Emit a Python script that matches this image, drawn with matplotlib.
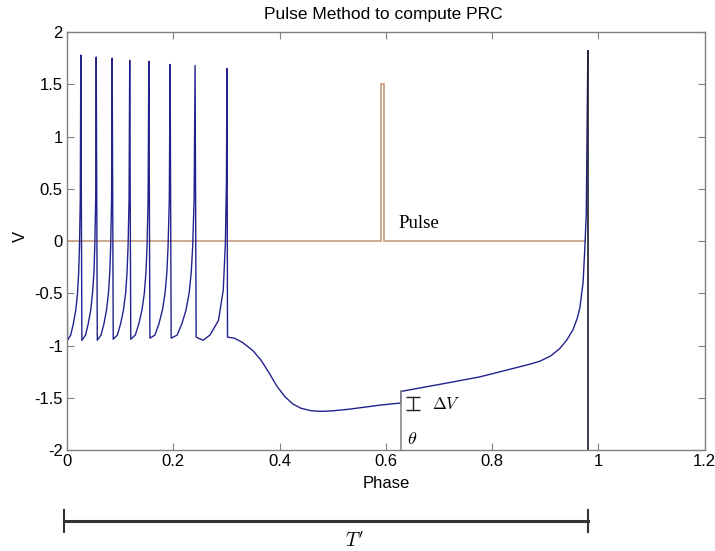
import matplotlib
matplotlib.use("Agg")
import matplotlib.pyplot as plt
from matplotlib.lines import Line2D

plt.rcParams["font.family"] = ["Liberation Sans", "DejaVu Sans"]
plt.rcParams["mathtext.fontset"] = "cm"

# membrane trace (phase, V)
trace_phase = [
    0.0, 0.001,
    0.007, 0.012, 0.0165, 0.0198, 0.022, 0.0235, 0.025, 0.026, 0.028,
    0.035, 0.040, 0.0447, 0.048, 0.0507, 0.0523, 0.054, 0.055, 0.057,
    0.064, 0.0696, 0.0744, 0.078, 0.0805, 0.0822, 0.0839, 0.085, 0.087,
    0.0948, 0.101, 0.1062, 0.1103, 0.113, 0.1149, 0.1168, 0.118, 0.120,
    0.1285, 0.1353, 0.1411, 0.1455, 0.1486, 0.1506, 0.1526, 0.154, 0.156,
    0.1655, 0.1731, 0.1796, 0.1845, 0.1879, 0.1902, 0.1925, 0.194, 0.196,
    0.2073, 0.2163, 0.2239, 0.2298, 0.2338, 0.2365, 0.2392, 0.241, 0.243,
    0.256, 0.269, 0.285, 0.294, 0.298, 0.300, 0.301, 0.302,
    0.315, 0.330, 0.350, 0.365, 0.380, 0.395, 0.410, 0.425, 0.440, 0.460,
    0.480, 0.500, 0.530, 0.560, 0.590, 0.628, 0.628,
    0.660, 0.714, 0.777, 0.839, 0.870, 0.890, 0.910, 0.927, 0.940, 0.952,
    0.960, 0.965, 0.971, 0.974, 0.977, 0.980,
]
trace_v = [
    -0.23, -0.95,
    -0.90, -0.79, -0.66, -0.50, -0.30, -0.05, 0.40, 1.78, -0.95,
    -0.90, -0.79, -0.66, -0.50, -0.30, -0.05, 0.40, 1.76, -0.95,
    -0.90, -0.79, -0.66, -0.50, -0.30, -0.05, 0.40, 1.75, -0.94,
    -0.90, -0.79, -0.66, -0.50, -0.30, -0.05, 0.40, 1.73, -0.94,
    -0.90, -0.79, -0.66, -0.50, -0.30, -0.05, 0.40, 1.72, -0.93,
    -0.90, -0.79, -0.66, -0.50, -0.30, -0.05, 0.40, 1.69, -0.93,
    -0.90, -0.79, -0.66, -0.50, -0.30, -0.05, 0.40, 1.68, -0.92,
    -0.95, -0.90, -0.76, -0.47, -0.02, 0.58, 1.65, -0.92,
    -0.93, -0.97, -1.05, -1.14, -1.26, -1.39, -1.49, -1.56, -1.60, -1.625,
    -1.63, -1.625, -1.61, -1.59, -1.57, -1.55, -1.44,
    -1.41, -1.36, -1.30, -1.22, -1.18, -1.15, -1.10, -1.03, -0.95, -0.85,
    -0.74, -0.64, -0.40, -0.10, 0.25, 1.82,
]

# injected pulse
pulse_phase = [0.0, 0.590, 0.590, 0.597, 0.597, 0.975]
pulse_v = [0.0, 0.0, 1.5, 1.5, 0.0, 0.0]

# markers
theta_phase = 0.628
theta_top = -1.44
spike_phase = 0.980
spike_top = 1.82
dv_phase = 0.651
dv_range = [-1.62, -1.49]

fig = plt.figure(figsize=(7.15, 5.51), dpi=100)
ax = fig.add_axes([0.0937, 0.1833, 0.892, 0.7586])

ax.plot(pulse_phase, pulse_v, color="#c9a286", lw=1.3)
ax.plot(trace_phase, trace_v, color="#22228f", lw=1.0)
ax.plot([theta_phase, theta_phase], [-2, theta_top], color="#8a8a8a", lw=1.2)
ax.plot([spike_phase, spike_phase], [-2, spike_top], color="#1c1c2c", lw=1.2)
ax.plot([dv_phase, dv_phase], dv_range, color="#222222", lw=1.0,
        marker="_", ms=10, mew=1.0)

ax.text(0.623, 0.17, "Pulse", family="Liberation Serif", fontsize=13.5,
        va="center", ha="left")
ax.text(0.686, -1.56, r"$\Delta V$", fontsize=12, va="center", ha="left")
ax.text(0.640, -1.90, r"$\theta$", fontsize=13, va="center", ha="left")

ax.set_xlim(0, 1.2)
ax.set_ylim(-2, 2)
ax.set_xticks([0, 0.2, 0.4, 0.6, 0.8, 1.0, 1.2])
ax.set_xticklabels(["0", "0.2", "0.4", "0.6", "0.8", "1", "1.2"])
ax.set_yticks([-2, -1.5, -1, -0.5, 0, 0.5, 1, 1.5, 2])
ax.set_yticklabels(["-2", "-1.5", "-1", "-0.5", "0", "0.5", "1", "1.5", "2"])
ax.tick_params(direction="in", length=5, width=0.8, color="#808080",
               labelsize=12, top=True, right=True, pad=3)
for s in ax.spines.values():
    s.set_color("#808080")
    s.set_linewidth(1.0)

fig.text(383 / 715, 1 - 14 / 551, "Pulse Method to compute PRC",
         fontsize=12.5, ha="center", va="center")
fig.text(386 / 715, 1 - 483 / 551, "Phase", fontsize=12,
         ha="center", va="center")
fig.text(20 / 715, 1 - 236 / 551, "V", fontsize=12, rotation=90,
         ha="center", va="center")

# T' bar under the plot
bx0, bx1, by = 64 / 715, 588 / 715, 1 - 521 / 551
cap = 11 / 551
fig.add_artist(Line2D([bx0, bx1], [by, by], color="#333333", lw=2.2))
fig.add_artist(Line2D([bx0, bx0], [by - cap, by + cap], color="#333333", lw=1.5))
fig.add_artist(Line2D([bx1, bx1], [by - cap, by + cap], color="#333333", lw=1.5))
fig.text(355 / 715, 1 - 541 / 551, r"$T'$", fontsize=14, ha="center", va="center")

fig.savefig("out.png", dpi=100)
